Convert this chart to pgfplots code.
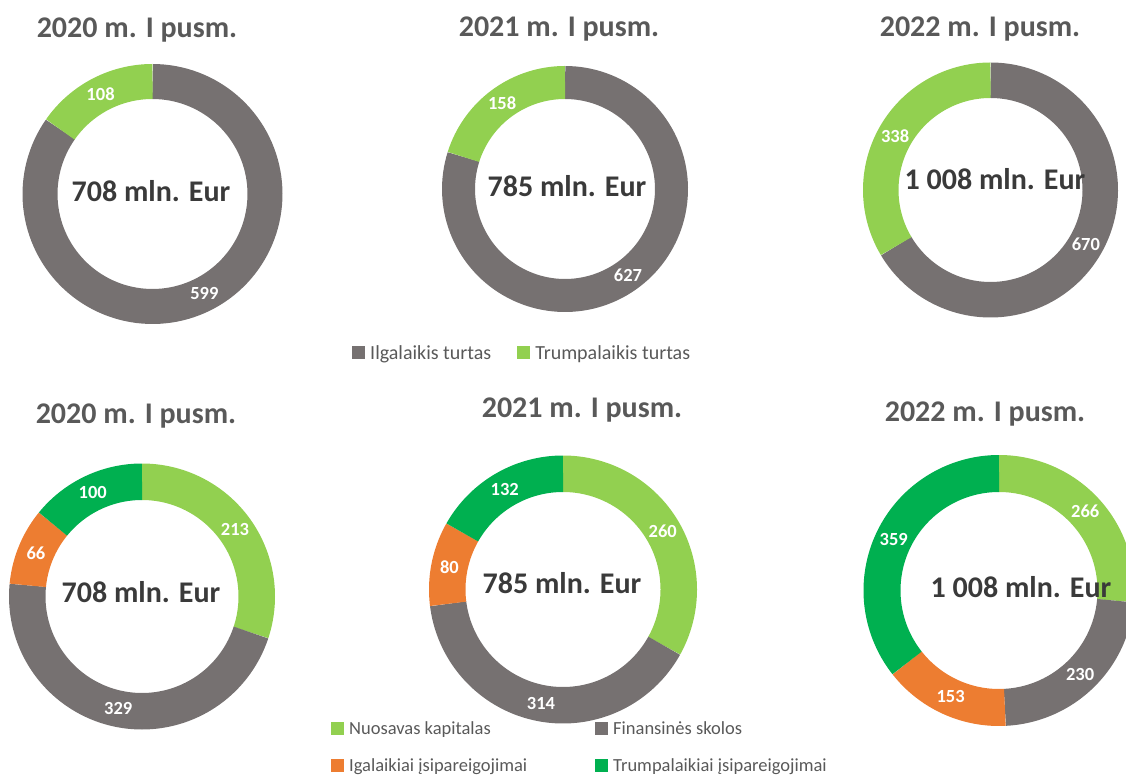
\documentclass[border=0pt]{standalone}
\usepackage{pgfplots}
\usepackage{pgfplotstable}
\pgfplotsset{compat=1.18}
\usepackage{fontspec}
\setmainfont{Carlito}

\definecolor{cgray}{HTML}{767171}
\definecolor{clight}{HTML}{92D050}
\definecolor{corange}{HTML}{ED7D31}
\definecolor{cgreen}{HTML}{00B050}
\definecolor{ctitle}{HTML}{595959}
\definecolor{ccenter}{HTML}{3A3A3A}

% ---- data ----
\pgfplotstableread{
seg value col
Ilgalaikis 599 cgray
Trumpalaikis 108 clight
}\tA
\pgfplotstableread{
seg value col
Ilgalaikis 627 cgray
Trumpalaikis 158 clight
}\tB
\pgfplotstableread{
seg value col
Ilgalaikis 670 cgray
Trumpalaikis 338 clight
}\tC
\pgfplotstableread{
seg value col
Nuosavas 213 clight
Finansines 329 cgray
Ilgalaikiai 66 corange
Trumpalaikiai 100 cgreen
}\tD
\pgfplotstableread{
seg value col
Nuosavas 260 clight
Finansines 314 cgray
Ilgalaikiai 80 corange
Trumpalaikiai 132 cgreen
}\tE
\pgfplotstableread{
seg value col
Nuosavas 266 clight
Finansines 230 cgray
Ilgalaikiai 153 corange
Trumpalaikiai 359 cgreen
}\tF

\tikzset{lbl/.style={text=white, font=\bfseries\fontsize{18.5}{20}\selectfont, inner sep=0pt}}
\pgfplotsset{
  legend image code/.code={\fill[#1, draw=none, line width=0pt] (0pt,-6.5pt) rectangle (13pt,6.5pt);},
  dn/.style={scale only axis, xmin=-1, xmax=1, ymin=-1, ymax=1,
    hide axis, anchor=center, clip=false},
}

% #1 table, #2 outer radius (pt), #3 inner radius (pt)
\newcommand\donut[3]{%
  \pgfplotstablegetrowsof{#1}%
  \pgfmathtruncatemacro\nlast{\pgfplotsretval-1}%
  \def\tot{0}%
  \pgfplotsforeachungrouped \i in {0,...,\nlast}{%
    \pgfplotstablegetelem{\i}{value}\of{#1}%
    \pgfmathsetmacro\tot{\tot+\pgfplotsretval}%
  }%
  \pgfmathsetmacro\ringw{#2-#3}%
  \pgfmathsetmacro\rmid{(#2+#3)/(2*#2)}%
  \def\cum{0}%
  \pgfplotsforeachungrouped \i in {0,...,\nlast}{%
    \pgfplotstablegetelem{\i}{value}\of{#1}\let\val\pgfplotsretval
    \pgfplotstablegetelem{\i}{col}\of{#1}\let\col\pgfplotsretval
    \pgfmathsetmacro\segA{90-360*(\cum/\tot)}%
    \pgfmathsetmacro\cum{\cum+\val}%
    \pgfmathsetmacro\segB{90-360*(\cum/\tot)}%
    \edef\doplot{\noexpand\addplot[color=\col, line width=\ringw pt, domain=\segB:\segA, samples=120] ({\rmid*cos(x)},{\rmid*sin(x)}) node[pos=0.5, lbl] {\val};}%
    \doplot
  }%
}

\begin{document}
\begin{tikzpicture}
% ---- top row ----
\begin{axis}[dn, at={(152.5pt,580pt)}, width=260pt, height=260pt,
  legend style={at={(1.2558,-0.1115)}, anchor=west, draw=none, fill=none,
    legend columns=-1, font=\fontsize{20}{22}\selectfont, text=ctitle,
    /tikz/every odd column/.append style={column sep=3pt},
    /tikz/every even column/.append style={column sep=24pt}}]
  \donut{\tA}{130}{95}
  \legend{Ilgalaikis turtas, Trumpalaikis turtas}
\end{axis}
\begin{axis}[dn, at={(565pt,585pt)}, width=246pt, height=246pt]
  \donut{\tB}{123}{90}
\end{axis}
\begin{axis}[dn, at={(990.5pt,584pt)}, width=255pt, height=255pt]
  \donut{\tC}{127.5}{92}
\end{axis}
% ---- bottom row ----
\begin{axis}[dn, at={(142pt,177.5pt)}, width=266pt, height=266pt]
  \donut{\tD}{133}{96.5}
\end{axis}
\begin{axis}[dn, at={(563pt,184.5pt)}, width=268pt, height=268pt,
  legend style={at={(-0.377,0.0242)}, anchor=north west, draw=none, fill=none,
    legend columns=2, font=\fontsize{18.5}{20}\selectfont, text=ctitle,
    row sep=19pt,
    /tikz/every odd column/.append style={column sep=3pt},
    /tikz/every even column/.append style={column sep=66pt}},
  legend cell align=left]
  \donut{\tE}{134}{97.5}
  \legend{Nuosavas kapitalas, Finansinės skolos, Igalaikiai įsipareigojimai, Trumpalaikiai įsipareigojimai}
\end{axis}
\begin{axis}[dn, at={(999pt,183.5pt)}, width=271pt, height=271pt]
  \donut{\tF}{135.5}{98.5}
\end{axis}

% ---- titles ----
\tikzset{ttl/.style={anchor=base, text=ctitle, font=\bfseries\fontsize{30}{32}\selectfont, inner sep=0pt},
         ctr/.style={anchor=base, text=ccenter, font=\bfseries\fontsize{30}{32}\selectfont, inner sep=0pt}}
\node[ttl] at (137pt,736pt) {2020 m. I pusm.};
\node[ttl] at (559pt,737pt) {2021 m. I pusm.};
\node[ttl] at (980pt,737pt) {2022 m. I pusm.};
\node[ttl] at (136pt,350pt) {2020 m. I pusm.};
\node[ttl] at (582pt,356pt) {2021 m. I pusm.};
\node[ttl] at (985pt,352pt) {2022 m. I pusm.};
% ---- centre totals ----
\node[ctr] at (151pt,572pt) {708 mln. Eur};
\node[ctr] at (567pt,577pt) {785 mln. Eur};
\node[ctr] at (995pt,584pt) {1 008 mln. Eur};
\node[ctr] at (141pt,172pt) {708 mln. Eur};
\node[ctr] at (562pt,181pt) {785 mln. Eur};
\node[ctr] at (1021pt,177pt) {1 008 mln. Eur};

\pgfresetboundingbox
\useasboundingbox (0pt,0pt) rectangle (1126pt,774pt);
\end{tikzpicture}
\end{document}
